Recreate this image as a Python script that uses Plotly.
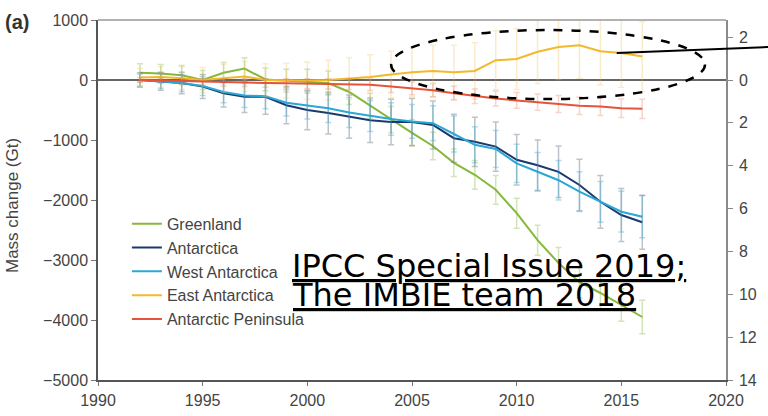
import plotly.graph_objects as go

years = list(range(1992, 2017))

greenland = [120, 110, 80, 0, 120, 190, 10, -10, -20, -50, -200, -430, -660, -880, -1100, -1380, -1580, -1830, -2220, -2670, -3050, -3370, -3550, -3750, -3950]
antarctica = [0, -20, -50, -110, -220, -280, -280, -420, -500, -550, -610, -670, -700, -700, -750, -970, -1030, -1110, -1330, -1420, -1530, -1750, -2030, -2250, -2370]
west_antarctica = [0, -20, -50, -100, -200, -260, -270, -380, -420, -470, -540, -600, -650, -690, -720, -900, -1080, -1150, -1390, -1530, -1670, -1860, -2030, -2195, -2280]
east_antarctica = [40, 50, 30, 0, 30, 60, 0, -10, -10, 0, 20, 50, 90, 130, 150, 130, 150, 330, 350, 470, 550, 580, 480, 450, 390]
peninsula = [0, -10, -20, -30, -40, -45, -50, -55, -60, -65, -70, -80, -110, -140, -170, -220, -270, -310, -340, -370, -400, -430, -440, -470, -480]

greenland_err = [150, 150, 160, 160, 170, 180, 190, 190, 200, 200, 210, 210, 220, 220, 230, 230, 240, 240, 250, 250, 260, 260, 270, 270, 280]
antarctica_err = [120, 150, 180, 200, 230, 260, 290, 310, 330, 350, 360, 370, 380, 390, 400, 400, 410, 410, 420, 420, 430, 430, 440, 440, 450]
west_err = [100, 120, 140, 160, 180, 200, 210, 220, 230, 240, 250, 260, 270, 280, 290, 300, 300, 310, 320, 320, 330, 330, 340, 340, 350]
east_err = [150, 170, 190, 210, 230, 250, 270, 290, 310, 330, 350, 370, 390, 410, 430, 450, 470, 490, 510, 530, 540, 550, 560, 570, 580]
peninsula_err = [40, 45, 50, 55, 60, 65, 70, 75, 80, 85, 90, 95, 100, 105, 110, 115, 120, 125, 130, 135, 140, 145, 150, 155, 160]

series_names = ["Greenland", "Antarctica", "West Antarctica", "East Antarctica", "Antarctic Peninsula"]
x_ticks = [1990, 1995, 2000, 2005, 2010, 2015, 2020]
left_ticks = [1000, 0, -1000, -2000, -3000, -4000, -5000]
right_ticks = [2, 0, -2, -4, -6, -8, -10, -12, -14]
right_labels = ["2", "0", "2", "4", "6", "8", "10", "12", "14"]

series = [
    (series_names[0], greenland, greenland_err, "#86b83c", "rgba(140,190,80,0.4)"),
    (series_names[1], antarctica, antarctica_err, "#1b3a6b", "rgba(110,120,140,0.45)"),
    (series_names[2], west_antarctica, west_err, "#2aa7d6", "rgba(60,170,210,0.4)"),
    (series_names[3], east_antarctica, east_err, "#f2b92a", "rgba(240,190,80,0.3)"),
    (series_names[4], peninsula, peninsula_err, "#e4543a", "rgba(230,110,80,0.3)"),
]

fig = go.Figure()
for name, vals, errs, col, ecol in series:
    fig.add_trace(go.Scatter(
        x=years, y=vals, name=name, mode="lines",
        line=dict(color=col, width=2),
        error_y=dict(type="data", array=errs, visible=True, color=ecol, thickness=1.5, width=3),
    ))

# carrier for the right axis
fig.add_trace(go.Scatter(x=[None], y=[None], yaxis="y2", showlegend=False, hoverinfo="skip"))

tick_font = dict(family="Liberation Sans, Arial, sans-serif", size=16, color="#444")

fig.update_layout(
    width=768, height=416,
    margin=dict(l=98, r=42, t=20, b=36),
    paper_bgcolor="white", plot_bgcolor="white",
    showlegend=True,
    legend=dict(x=0.046, y=0.481, xanchor="left", yanchor="top",
                bgcolor="rgba(255,255,255,0.85)", borderwidth=0,
                font=dict(family="Liberation Sans, Arial, sans-serif", size=16, color="#444"),
                itemwidth=30, tracegroupgap=0),
    xaxis=dict(range=[1990, 2020], tickvals=x_ticks, showgrid=False, zeroline=False,
               showline=True, linecolor="#555", linewidth=1.5, automargin=False,
               ticks="outside", ticklen=4, tickcolor="#777", tickfont=tick_font,
               ticklabelstandoff=1),
    yaxis=dict(range=[-5000, 1000], tickvals=left_ticks, showgrid=False, automargin=False,
               zeroline=True, zerolinecolor="#666", zerolinewidth=1.5,
               showline=True, linecolor="#555", linewidth=1.5,
               ticks="outside", ticklen=5, tickcolor="#777", tickfont=tick_font),
    yaxis2=dict(range=[-14, 2.8], overlaying="y", side="right", tickvals=right_ticks,
                ticktext=right_labels, showgrid=False, zeroline=False, automargin=False,
                showline=True, linecolor="#8a8a8a", linewidth=1.5,
                ticks="outside", ticklen=5, tickcolor="#888", tickfont=tick_font,
                ticklabelstandoff=3),
)

# top border
fig.add_shape(type="line", xref="paper", yref="paper", x0=0, x1=1, y0=1, y1=1,
              line=dict(color="#999", width=1.5))
# dashed ellipse around East Antarctica gain
fig.add_shape(type="circle", xref="x", yref="y", x0=2004.0, x1=2019.0, y0=-317, y1=833,
              line=dict(color="black", width=2.5, dash="dash"))
# pointer line
fig.add_shape(type="line", xref="paper", yref="paper", x0=0.826, y0=0.908, x1=1.07, y1=0.925,
              line=dict(color="black", width=2))

fig.add_annotation(text="<b>(a)</b>", xref="paper", yref="paper", x=-0.151, y=0.994,
                   xanchor="left", yanchor="middle", showarrow=False,
                   font=dict(family="Liberation Sans, Arial, sans-serif", size=20, color="#333"))
fig.add_annotation(text="Mass change (Gt)", xref="paper", yref="paper", x=-0.137, y=0.486,
                   xanchor="center", yanchor="middle", textangle=-90, showarrow=False,
                   font=dict(family="Liberation Sans, Arial, sans-serif", size=17, color="#444"))
fig.add_annotation(text="<u>IPCC Special Issue 2019;</u>", xref="paper", yref="paper",
                   x=0.306, y=0.317, xanchor="left", yanchor="middle", showarrow=False,
                   font=dict(family="DejaVu Sans, Verdana, sans-serif", size=32, color="black"))
fig.add_annotation(text="<u>The IMBIE team 2018</u>", xref="paper", yref="paper",
                   x=0.306, y=0.2375, xanchor="left", yanchor="middle", showarrow=False,
                   font=dict(family="DejaVu Sans, Verdana, sans-serif", size=32, color="black"))

fig.write_html("out.html", config={"displayModeBar": False},
               post_script="document.body.style.margin='0';document.body.style.padding='0';")
